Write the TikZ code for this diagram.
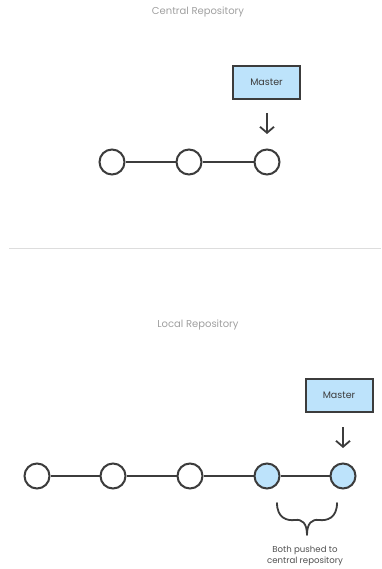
\documentclass[tikz,border=0pt]{standalone}
\usepackage{fontspec}
\setmainfont{Poppins}
\usetikzlibrary{arrows.meta}
\definecolor{edge}{HTML}{3C3C3C}
\definecolor{blue}{HTML}{BDE3FB}
\definecolor{title}{HTML}{A0A0A0}
\definecolor{sep}{HTML}{DDDDDD}
\begin{document}
\begin{tikzpicture}[x=1pt,y=-1pt,
  commit/.style={circle,draw=edge,line width=2pt,minimum size=25pt,inner sep=0pt,fill=white},
  pushed/.style={commit,fill=blue},
  branch/.style={rectangle,draw=edge,line width=2pt,fill=blue,minimum width=67pt,minimum height=33pt,font=\fontsize{9.5}{11}\selectfont,text=edge},
  link/.style={draw=edge,line width=1.6pt},
  pointer/.style={draw=edge,line width=1.8pt,-{Straight Barb[length=6pt,width=14pt]}},
  heading/.style={font=\fontsize{10}{12}\selectfont,text=title}]
\useasboundingbox (0,0) rectangle (381,569);
% top
\node[heading] (t1) at (198,12) {Central Repository};
\node[branch] (m1) at (266.5,82.5) {Master};
\node[commit] (a1) at (112,162) {};
\node[commit] (a2) at (189,162) {};
\node[commit] (a3) at (267,162) {};
\draw[link] (a1) -- (a2);
\draw[link] (a2) -- (a3);
\coordinate (p1s) at (267,113);
\coordinate (p1e) at (267,134);
\draw[pointer] (p1s) -- (p1e);
% separator
\coordinate (s1) at (9,248);
\coordinate (s2) at (381,248);
\draw[sep,line width=1pt] (s1) -- (s2);
% bottom
\node[heading] (t2) at (198,325) {Local Repository};
\node[branch] (m2) at (339,395.5) {Master};
\node[commit] (b1) at (37,476) {};
\node[commit] (b2) at (113,476) {};
\node[commit] (b3) at (190,476) {};
\node[pushed] (b4) at (267,476) {};
\node[pushed] (b5) at (343,476) {};
\draw[link] (b1) -- (b2);
\draw[link] (b2) -- (b3);
\draw[link] (b3) -- (b4);
\draw[link] (b4) -- (b5);
\coordinate (p2s) at (343,427);
\coordinate (p2e) at (343,448);
\draw[pointer] (p2s) -- (p2e);
% brace
\coordinate (bl) at (277,503);
\coordinate (bm) at (307,535);
\coordinate (br) at (337,503);
\draw[edge,line width=1.8pt,line cap=round,line join=round]
  (bl) .. controls (277,518) and (287,521) .. (295,520) .. controls (302,519) and (307,523) .. (bm)
  .. controls (307,523) and (312,519) .. (319,520) .. controls (327,521) and (337,518) .. (br);
\node[font=\fontsize{8.6}{11}\selectfont,text=edge!90,align=center] (lbl) at (305,556) {Both pushed to\\central repository};
\end{tikzpicture}
\end{document}
